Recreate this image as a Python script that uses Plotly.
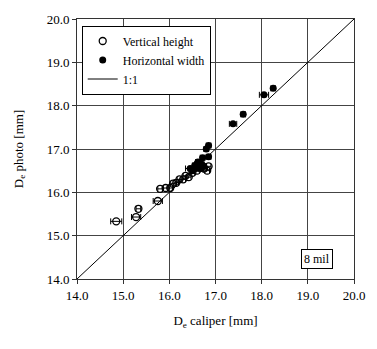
import plotly.graph_objects as go

# Vertical height (open circles)
vh_caliper = [14.85, 15.28, 15.33, 15.75, 15.80, 15.92, 16.02, 16.08, 16.15, 16.22, 16.30, 16.35, 16.42, 16.50, 16.60, 16.75, 16.82, 16.85]
vh_photo   = [15.33, 15.43, 15.62, 15.80, 16.08, 16.10, 16.10, 16.20, 16.22, 16.30, 16.30, 16.38, 16.35, 16.45, 16.50, 16.55, 16.50, 16.60]
vh_err     = [0.12, 0.10, 0.05, 0.10, 0.05, 0.05, 0.05, 0.05, 0.05, 0.05, 0.05, 0.05, 0.05, 0.05, 0.05, 0.05, 0.05, 0.05]

# Horizontal width (filled circles)
hw_caliper = [18.25, 18.05, 17.60, 17.38, 16.85, 16.80, 16.85, 16.72, 16.55, 16.60, 16.65, 16.68, 16.58, 16.50, 16.62, 16.70, 16.75, 16.45]
hw_photo   = [18.40, 18.25, 17.80, 17.58, 17.08, 17.00, 16.82, 16.80, 16.62, 16.65, 16.60, 16.55, 16.55, 16.50, 16.70, 16.65, 16.60, 16.55]
hw_err     = [0.05, 0.10, 0.05, 0.08, 0.05, 0.05, 0.05, 0.05, 0.05, 0.05, 0.05, 0.05, 0.05, 0.05, 0.05, 0.05, 0.05, 0.10]

line_11 = [14.0, 20.0]
tick_vals = [14, 15, 16, 17, 18, 19, 20]
tick_text = ["14.0", "15.0", "16.0", "17.0", "18.0", "19.0", "20.0"]

FONT = "Liberation Serif"

fig = go.Figure()
fig.add_trace(go.Scatter(
    x=vh_caliper, y=vh_photo, mode="markers", name="Vertical height",
    marker=dict(symbol="circle-open", size=7, color="black", line=dict(width=1.3, color="black")),
    error_x=dict(type="data", array=vh_err, color="black", thickness=1, width=3),
))
fig.add_trace(go.Scatter(
    x=hw_caliper, y=hw_photo, mode="markers", name="Horizontal width",
    marker=dict(symbol="circle", size=7, color="black"),
    error_x=dict(type="data", array=hw_err, color="black", thickness=1, width=3),
))
fig.add_trace(go.Scatter(
    x=line_11, y=line_11, mode="lines", name="1:1",
    line=dict(color="black", width=1),
))

axis_common = dict(
    range=[14, 20], tickvals=tick_vals, ticktext=tick_text,
    showgrid=True, gridcolor="#444444", gridwidth=1,
    showline=True, linecolor="#333333", linewidth=1, mirror=True,
    ticks="outside", ticklen=4, tickcolor="#333333",
    zeroline=False, tickfont=dict(family=FONT, size=13, color="black"),
)

fig.update_layout(
    width=377, height=349,
    margin=dict(l=77, r=12, t=15, b=70),
    paper_bgcolor="white", plot_bgcolor="white",
    font=dict(family=FONT, size=12, color="black"),
    xaxis=dict(**axis_common, title=dict(text="D<sub>e</sub> caliper [mm]", font=dict(family=FONT, size=13), standoff=14)),
    yaxis=dict(**axis_common, title=dict(text="D<sub>e</sub> photo [mm]", font=dict(family=FONT, size=13), standoff=20)),
    legend=dict(x=0.017, y=0.975, xanchor="left", yanchor="top",
                bgcolor="white", bordercolor="black", borderwidth=1,
                font=dict(family=FONT, size=12), tracegroupgap=0, itemwidth=30),
    showlegend=True,
    annotations=[dict(x=0.868, y=0.078, xref="paper", yref="paper", text="8 mil",
                      showarrow=False, xanchor="center", yanchor="middle",
                      bordercolor="black", borderwidth=1, bgcolor="white", borderpad=2,
                      font=dict(family=FONT, size=12))],
)

fig.write_html("out.html")
